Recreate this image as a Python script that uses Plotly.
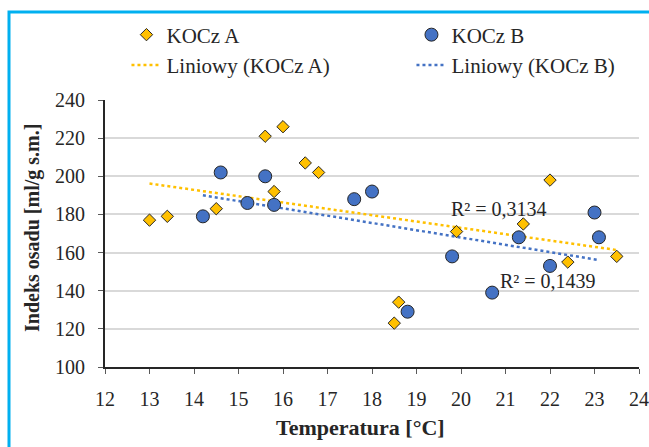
import numpy as np
import plotly.graph_objects as go

# KOCz A data
a_temp = [13.0, 13.4, 14.5, 15.6, 15.8, 16.0, 16.5, 16.8, 18.5, 18.6, 19.9, 21.4, 22.0, 22.4, 23.5]
a_ind = [177, 179, 183, 221, 192, 226, 207, 202, 123, 134, 171, 175, 198, 155, 158]
# KOCz B data
b_temp = [14.2, 14.6, 15.2, 15.6, 15.8, 17.6, 18.0, 18.8, 19.8, 20.7, 21.3, 22.0, 23.0, 23.1]
b_ind = [179, 202, 186, 200, 185, 188, 192, 129, 158, 139, 168, 153, 181, 168]

r2_a_text = "R² = 0,3134"
r2_b_text = "R² = 0,1439"
x_title = "Temperatura [°C]"
y_title = "Indeks osadu [ml/g s.m.]"

FONT = "'Times New Roman', 'Liberation Serif', serif"
ORANGE = "#FFC000"
BLUE = "#4472C4"

def trend(xs, ys):
    k, b = np.polyfit(xs, ys, 1)
    x0, x1 = min(xs), max(xs)
    return [x0, x1], [k * x0 + b, k * x1 + b]

ta_x, ta_y = trend(a_temp, a_ind)
tb_x, tb_y = trend(b_temp, b_ind)

fig = go.Figure()
fig.add_trace(go.Scatter(x=ta_x, y=ta_y, mode="lines", name="Liniowy (KOCz A)",
                         line=dict(color=ORANGE, width=2.5, dash="dot"), legendrank=3))
fig.add_trace(go.Scatter(x=tb_x, y=tb_y, mode="lines", name="Liniowy (KOCz B)",
                         line=dict(color=BLUE, width=2.5, dash="dot"), legendrank=4))
fig.add_trace(go.Scatter(x=a_temp, y=a_ind, mode="markers", name="KOCz A",
                         marker=dict(symbol="diamond", size=9.5, color=ORANGE,
                                     line=dict(color="#262626", width=1)), legendrank=1))
fig.add_trace(go.Scatter(x=b_temp, y=b_ind, mode="markers", name="KOCz B",
                         marker=dict(symbol="circle", size=13, color=BLUE,
                                     line=dict(color="#262626", width=1)), legendrank=2))

fig.update_layout(
    width=649, height=447, autosize=False,
    margin=dict(l=105, r=10, t=100, b=80, autoexpand=False),
    paper_bgcolor="white", plot_bgcolor="white",
    font=dict(family=FONT, size=20, color="#262626"),
    showlegend=True,
    legend=dict(orientation="h", x=-0.001, xanchor="left", y=1.4026, yanchor="top",
                entrywidth=240, entrywidthmode="pixels",
                borderwidth=22, bordercolor="rgba(0,0,0,0)", bgcolor="rgba(0,0,0,0)",
                font=dict(family=FONT, size=21, color="#262626"), traceorder="normal"),
    xaxis=dict(range=[12, 24], dtick=1, tick0=12, showgrid=False, zeroline=False,
               showline=True, linecolor="#262626", linewidth=2,
               ticks="outside", ticklen=5, tickcolor="#595959", tickwidth=1,
               ticklabelstandoff=8, tickfont=dict(size=20)),
    yaxis=dict(range=[100, 240], dtick=20, tick0=100, showgrid=True, gridcolor="#d9d9d9",
               gridwidth=1.5, zeroline=False,
               showline=True, linecolor="#262626", linewidth=2,
               ticks="outside", ticklen=5, tickcolor="#595959", tickwidth=1,
               ticklabelstandoff=9, tickfont=dict(size=20)),
    annotations=[
        dict(text=r2_a_text, x=20.85, y=182.9, xref="x", yref="y", showarrow=False,
             font=dict(family=FONT, size=20, color="#262626"), xanchor="center", yanchor="middle"),
        dict(text=r2_b_text, x=21.955, y=145.1, xref="x", yref="y", showarrow=False,
             font=dict(family=FONT, size=20, color="#262626"), xanchor="center", yanchor="middle"),
        dict(text="<b>" + x_title + "</b>", x=(360 - 105) / 534, y=(367 - 428) / 267,
             xref="paper", yref="paper", showarrow=False, xanchor="center", yanchor="middle",
             font=dict(family=FONT, size=22, color="#262626")),
        dict(text="<b>" + y_title + "</b>", x=(32 - 105) / 534, y=(367 - 228) / 267, textangle=-90,
             xref="paper", yref="paper", showarrow=False, xanchor="center", yanchor="middle",
             font=dict(family=FONT, size=20, color="#262626")),
    ],
    shapes=[dict(type="rect", xref="paper", yref="paper",
                 x0=(9 - 105) / 534, x1=(680 - 105) / 534,
                 y0=(367 - 480) / 267, y1=(367 - 12) / 267,
                 line=dict(color="#00B0F0", width=3), fillcolor="rgba(0,0,0,0)", layer="below")],
)

fig.write_html("out.html")
